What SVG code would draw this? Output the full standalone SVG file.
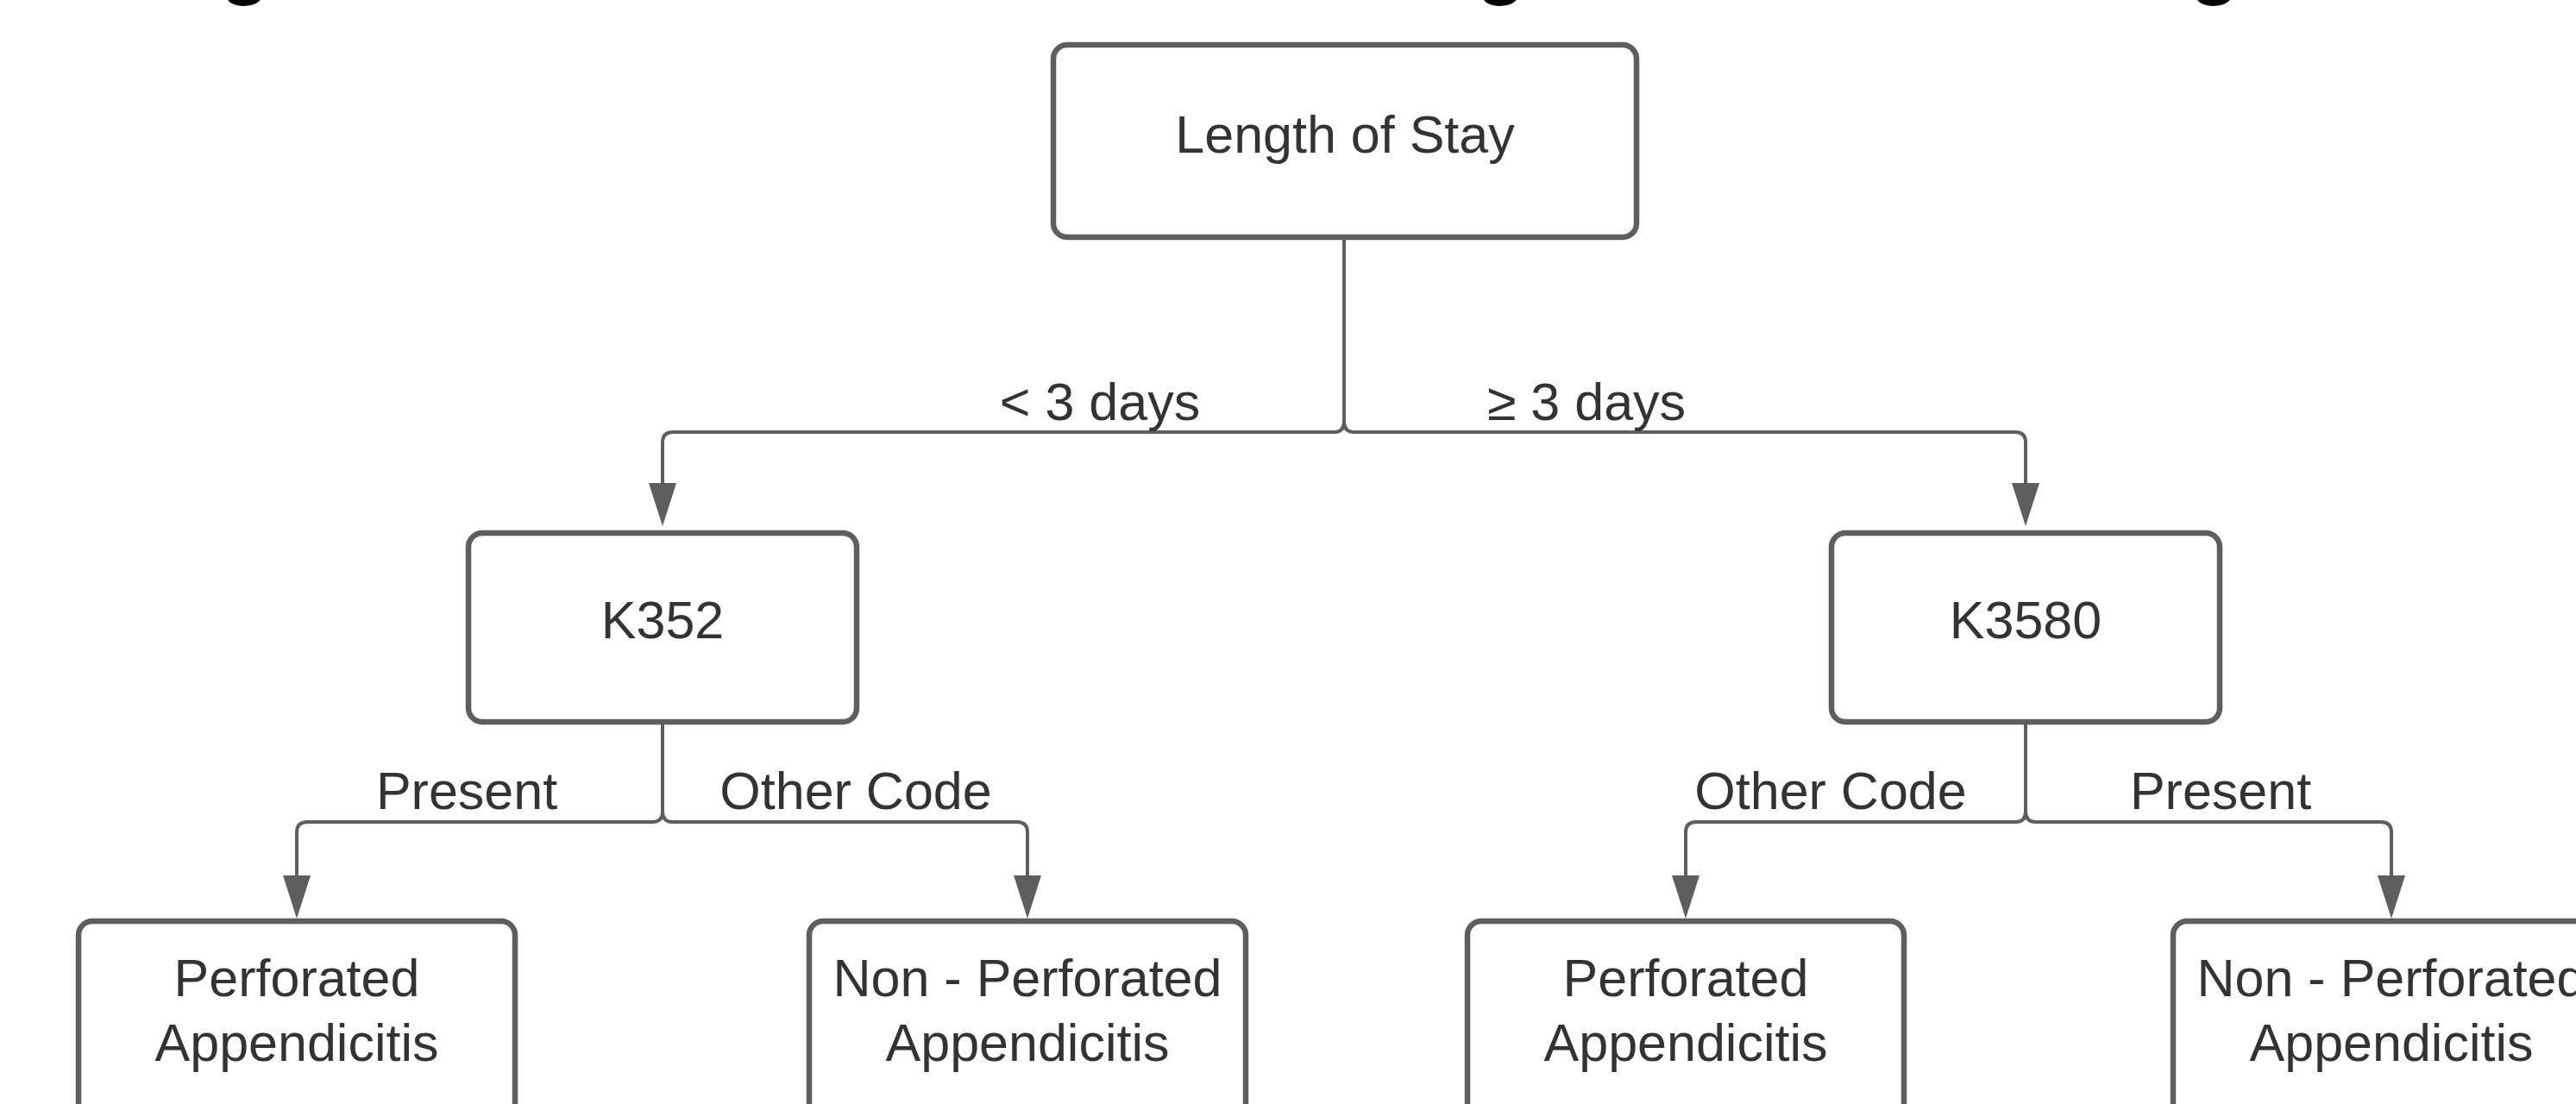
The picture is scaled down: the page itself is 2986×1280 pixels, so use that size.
<svg xmlns="http://www.w3.org/2000/svg" width="2986" height="1280" viewBox="0 0 2986 1280">
  <style>
    .box { fill: #ffffff; stroke: #5e5e5e; stroke-width: 6.5; }
    .lbl { font-family: "Liberation Sans", Arial, sans-serif; font-size: 61px; fill: #333333; text-anchor: middle; }
    .edge { fill: none; stroke: #5e5e5e; stroke-width: 4; }
    .title { font-family: "Liberation Sans", Arial, sans-serif; font-weight: bold; font-size: 95px; fill: #000000; text-anchor: middle; }
  </style>
  <defs>
    <marker id="arrow" viewBox="0 0 50 32" refX="44" refY="16" markerWidth="50" markerHeight="32" markerUnits="userSpaceOnUse" orient="auto">
      <path d="M0,0 L50,16 L0,32 z" fill="#5e5e5e"/>
    </marker>
  </defs>
  <rect width="2986" height="1280" fill="#ffffff"/>

  <g id="title-fragments">
    <text class="title" x="284" y="-13">g</text>
    <text class="title" x="1740" y="-13">g</text>
    <text class="title" x="2567" y="-13">g</text>
  </g>

  <g id="connectors">
    <path class="edge" marker-end="url(#arrow)" d="M1558,275 V489 Q1558,501 1546,501 H780 Q768,501 768,513 V604"/>
    <path class="edge" marker-end="url(#arrow)" d="M1558,275 V489 Q1558,501 1570,501 H2336 Q2348,501 2348,513 V604"/>
    <path class="edge" marker-end="url(#arrow)" d="M768,840 V941 Q768,953 756,953 H356 Q344,953 344,965 V1059"/>
    <path class="edge" marker-end="url(#arrow)" d="M768,840 V941 Q768,953 780,953 H1179 Q1191,953 1191,965 V1059"/>
    <path class="edge" marker-end="url(#arrow)" d="M2348,840 V941 Q2348,953 2336,953 H1966 Q1954,953 1954,965 V1059"/>
    <path class="edge" marker-end="url(#arrow)" d="M2348,840 V941 Q2348,953 2360,953 H2760 Q2772,953 2772,965 V1059"/>
    <text class="lbl" x="1275" y="487">&lt; 3 days</text>
    <text class="lbl" x="1839" y="487">≥ 3 days</text>
    <text class="lbl" x="541" y="938">Present</text>
    <text class="lbl" x="992" y="938">Other Code</text>
    <text class="lbl" x="2122" y="938">Other Code</text>
    <text class="lbl" x="2574" y="938">Present</text>
  </g>

  <g id="node-root">
    <rect class="box" x="1221" y="52" width="676" height="223" rx="16"/>
    <text class="lbl" x="1559" y="177">Length of Stay</text>
  </g>
  <g id="node-k352">
    <rect class="box" x="543" y="618" width="450" height="219" rx="16"/>
    <text class="lbl" x="768" y="740">K352</text>
  </g>
  <g id="node-k3580">
    <rect class="box" x="2123" y="618" width="450" height="219" rx="16"/>
    <text class="lbl" x="2348" y="740">K3580</text>
  </g>
  <g id="node-perf-left">
    <rect class="box" x="91" y="1068" width="506" height="260" rx="16"/>
    <text class="lbl" x="344" y="1155">Perforated</text>
    <text class="lbl" x="344" y="1230">Appendicitis</text>
  </g>
  <g id="node-nonperf-left">
    <rect class="box" x="938" y="1068" width="506" height="260" rx="16"/>
    <text class="lbl" x="1191" y="1155">Non - Perforated</text>
    <text class="lbl" x="1191" y="1230">Appendicitis</text>
  </g>
  <g id="node-perf-right">
    <rect class="box" x="1701" y="1068" width="506" height="260" rx="16"/>
    <text class="lbl" x="1954" y="1155">Perforated</text>
    <text class="lbl" x="1954" y="1230">Appendicitis</text>
  </g>
  <g id="node-nonperf-right">
    <rect class="box" x="2519" y="1068" width="506" height="260" rx="16"/>
    <text class="lbl" x="2772" y="1155">Non - Perforated</text>
    <text class="lbl" x="2772" y="1230">Appendicitis</text>
  </g>
</svg>
